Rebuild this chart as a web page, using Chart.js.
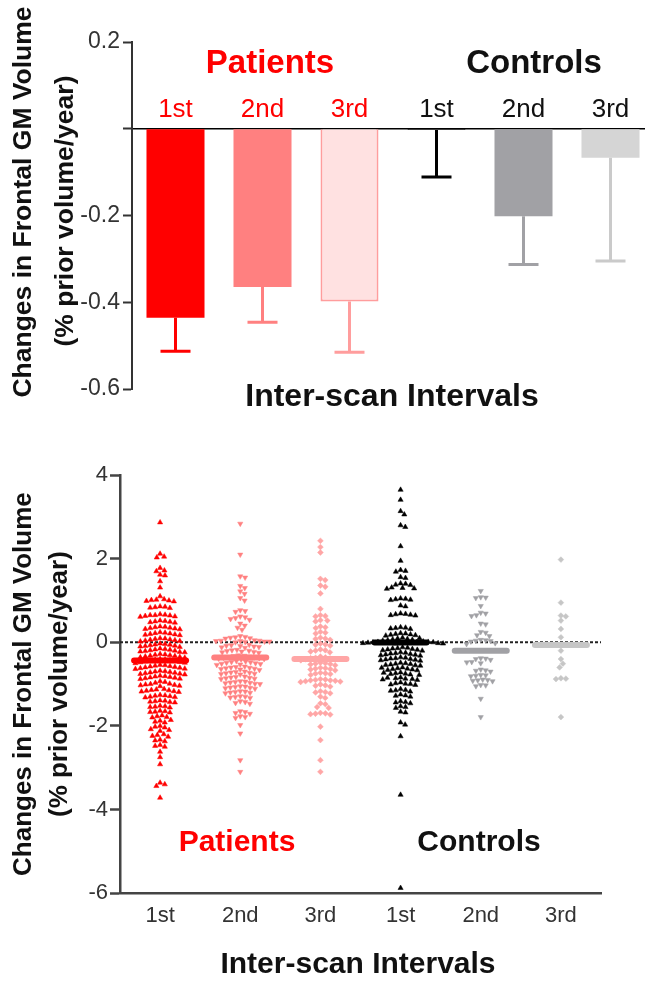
<!DOCTYPE html>
<html>
<head>
<meta charset="utf-8">
<script src="https://cdn.jsdelivr.net/npm/chart.js@4.4.1/dist/chart.umd.min.js"></script>
<style>
  html, body { margin: 0; padding: 0; background: #fff; overflow: hidden; }
  canvas { position: absolute; left: 0; }
</style>
</head>
<body>
<canvas id="barChart" width="654" height="420" style="top:0"></canvas>
<canvas id="dotChart" width="645" height="526" style="top:460px"></canvas>
<script>
// 前頭葉灰白質の体積変化 (上: 平均とSEM, 下: 個別の値)

const intervalLabels = ['1st', '2nd', '3rd', '1st', '2nd', '3rd']
const groupNames = ['Patients', 'Controls']
const axisTitleY = ['Changes in Frontal GM Volume', '(% prior volume/year)']
const axisTitleX = 'Inter-scan Intervals'

const barTicks = [0.2, 0, -0.2, -0.4, -0.6]
const dotTicks = [4, 2, 0, -2, -4, -6]

// 平均値と誤差 (SEM)
const meanChange = [-0.436, -0.365, -0.398, -0.003, -0.202, -0.067]
const semChange = [0.077, 0.081, 0.117, 0.108, 0.111, 0.238]

// 個別の値
const patients1st = [2.87,
  2.12, 2.05, 2.03,
  1.78, 1.72, 1.70, 1.62, 1.60,
  1.46, 1.31, 1.10,
  1.03, 1.02, 1.01, 1.00, 0.99, 0.98,
  0.86, 0.85, 0.84, 0.83, 0.82,
  0.67, 0.66, 0.65, 0.65, 0.64, 0.63, 0.62, 0.61,
  0.52, 0.51, 0.50, 0.49, 0.48, 0.47,
  0.38, 0.37, 0.36, 0.35, 0.34, 0.33, 0.32, 0.31,
  0.24, 0.23, 0.22, 0.21, 0.20, 0.19, 0.18, 0.17,
  0.10, 0.09, 0.08, 0.07, 0.06, 0.05, 0.04, 0.03, 0.02,
  -0.03, -0.04, -0.05, -0.06, -0.07, -0.08, -0.09, -0.10, -0.11,
  -0.15, -0.16, -0.17, -0.18, -0.19, -0.20, -0.21, -0.22, -0.23, -0.24,
  -0.28, -0.29, -0.30, -0.31, -0.32, -0.33, -0.34, -0.35, -0.36, -0.37,
  -0.40, -0.41, -0.42, -0.43, -0.44, -0.45, -0.46, -0.47, -0.48, -0.49, -0.50,
  -0.54, -0.55, -0.56, -0.57, -0.58, -0.59, -0.60, -0.61, -0.62, -0.63, -0.64,
  -0.68, -0.69, -0.70, -0.71, -0.72, -0.73, -0.74, -0.75, -0.76, -0.77,
  -0.80, -0.81, -0.82, -0.83, -0.84, -0.85, -0.86, -0.87, -0.88,
  -0.93, -0.95, -0.97, -0.99, -1.00, -1.01, -1.02, -1.03, -1.04, -1.05,
  -1.12, -1.13, -1.14, -1.15, -1.16, -1.17, -1.18, -1.19,
  -1.26, -1.27, -1.28, -1.29, -1.30, -1.31, -1.32,
  -1.39, -1.40, -1.41, -1.42, -1.43, -1.44,
  -1.52, -1.53, -1.54, -1.55, -1.56,
  -1.64, -1.65, -1.66, -1.67, -1.68,
  -1.75, -1.77, -1.79, -1.80,
  -1.86, -1.88, -1.90, -1.92,
  -2.00, -2.02, -2.04,
  -2.08, -2.10, -2.12,
  -2.20, -2.22, -2.24, -2.26,
  -2.33, -2.35, -2.37,
  -2.46, -2.48, -2.50,
  -2.62, -2.75, -2.92,
  -3.36, -3.40, -3.44,
  -3.72]

const patients2nd = [2.84, 2.10,
  1.58, 1.55,
  1.35, 1.30, 1.22, 1.16, 1.06, 1.00,
  0.77, 0.75, 0.73,
  0.62, 0.60, 0.58, 0.56, 0.54,
  0.45, 0.40, 0.35, 0.30,
  0.15, 0.13, 0.12, 0.11, 0.10, 0.09,
  0.05, 0.04, 0.04, 0.03, 0.03, 0.02, 0.02, 0.01, 0.00,
  -0.06, -0.07, -0.08, -0.09, -0.10, -0.11, -0.12, -0.13,
  -0.18, -0.19, -0.20, -0.21, -0.22, -0.23, -0.24, -0.25,
  -0.31, -0.32, -0.33, -0.34, -0.35, -0.36, -0.37, -0.38, -0.39, -0.40, -0.41,
  -0.45, -0.46, -0.47, -0.48, -0.49, -0.50, -0.51, -0.52, -0.53, -0.54,
  -0.58, -0.59, -0.60, -0.61, -0.62, -0.63, -0.64, -0.65, -0.66,
  -0.70, -0.71, -0.72, -0.73, -0.74, -0.75, -0.76, -0.77,
  -0.82, -0.83, -0.84, -0.85, -0.86, -0.87, -0.88,
  -0.93, -0.94, -0.95, -0.96, -0.97, -0.98, -0.99, -1.00,
  -1.05, -1.06, -1.07, -1.08, -1.09, -1.10, -1.11,
  -1.17, -1.18, -1.19, -1.20, -1.21, -1.22,
  -1.29, -1.30, -1.31, -1.32, -1.33,
  -1.41, -1.43, -1.45, -1.47,
  -1.65, -1.67, -1.69, -1.71,
  -1.77, -1.79, -1.81,
  -1.98, -2.18, -2.82, -3.10]

const patients3rd = [2.43, 2.28, 2.15,
  1.52, 1.49, 1.36, 1.33, 1.17, 0.80,
  0.65, 0.63, 0.62,
  0.53, 0.52, 0.50,
  0.38, 0.36, 0.34,
  0.25, 0.23, 0.21,
  0.11, 0.09, 0.08, 0.06,
  -0.03, -0.05, -0.06, -0.08,
  -0.17, -0.19, -0.20, -0.22, -0.24,
  -0.34, -0.36, -0.37, -0.38, -0.39, -0.40, -0.41, -0.43,
  -0.49, -0.50, -0.51, -0.52, -0.53, -0.55,
  -0.61, -0.62, -0.63, -0.64, -0.65, -0.67,
  -0.73, -0.74, -0.75, -0.76, -0.78,
  -0.88, -0.89, -0.90, -0.91, -0.91, -0.92, -0.93, -0.94, -0.95,
  -1.01, -1.03, -1.04, -1.06,
  -1.17, -1.19, -1.20, -1.22,
  -1.30, -1.33, -1.46, -1.48, -1.55, -1.57,
  -1.69, -1.70, -1.71, -1.72, -1.73,
  -2.02, -2.34, -2.82, -3.10]

const controls1st = [3.65, 3.41, 3.14, 3.06, 2.80, 2.76, 2.30, 1.95,
  1.73, 1.71, 1.69,
  1.56, 1.54,
  1.41, 1.40, 1.38, 1.37,
  1.31, 1.30, 1.29, 1.28,
  1.05, 1.04, 1.03, 1.02, 1.01,
  0.88, 0.86,
  0.69, 0.68, 0.67, 0.66, 0.65, 0.64,
  0.36, 0.35, 0.34, 0.33, 0.32,
  0.22, 0.21, 0.20, 0.19, 0.18, 0.17, 0.16,
  0.11, 0.10, 0.09, 0.08, 0.07, 0.06, 0.05, 0.04,
  0.02, 0.01, 0.01, 0.00, 0.00, 0.00, -0.01, -0.01, -0.02, -0.02, -0.03, -0.03,
  -0.12, -0.13, -0.14, -0.15, -0.16, -0.17, -0.18, -0.19, -0.20,
  -0.24, -0.25, -0.26, -0.27, -0.28, -0.29, -0.30, -0.31, -0.32,
  -0.36, -0.37, -0.38, -0.39, -0.40, -0.41, -0.42, -0.43, -0.44,
  -0.49, -0.50, -0.51, -0.52, -0.53, -0.54, -0.55, -0.56,
  -0.60, -0.61, -0.62, -0.63, -0.64, -0.65, -0.66, -0.67,
  -0.72, -0.73, -0.74, -0.75, -0.76, -0.77, -0.78,
  -0.84, -0.85, -0.86, -0.87, -0.88, -0.89, -0.90,
  -0.96, -0.98, -0.99, -1.00, -1.01, -1.02,
  -1.12, -1.14, -1.15, -1.16, -1.18,
  -1.25, -1.27, -1.28, -1.30,
  -1.41, -1.43, -1.44, -1.46,
  -1.53, -1.55, -1.57,
  -1.66, -1.68,
  -1.92, -1.97, -2.25, -3.65, -5.88]

const controls2nd = [1.23,
  1.08, 1.07, 1.06,
  0.87, 0.71, 0.69, 0.65, 0.63,
  0.45, 0.43, 0.25, 0.23, 0.17, 0.15,
  0.06, 0.05, 0.04, 0.03, 0.02,
  -0.02, -0.04,
  -0.38, -0.39, -0.40, -0.42,
  -0.47, -0.48, -0.50,
  -0.65, -0.67, -0.68, -0.70,
  -0.78, -0.79, -0.80, -0.81,
  -0.89, -0.90, -0.91, -0.92, -0.93,
  -1.02, -1.03, -1.05,
  -1.35, -1.79]

const controls3rd = [1.98, 0.95, 0.64, 0.62, 0.52, 0.32, 0.12,
  -0.20, -0.40, -0.51, -0.60, -0.86, -0.87, -0.88, -1.79]

const groups = [patients1st, patients2nd, patients3rd, controls1st, controls2nd, controls3rd]

// 見た目
const FONT = '"Liberation Sans", Arial, Helvetica, sans-serif'
Chart.defaults.font.family = FONT

const barFill = ['#ff0000', '#ff8080', '#ffe1e1', '#000000', '#a1a1a5', '#d5d5d5']
const barBorder = ['#ff0000', '#ff8080', '#ff9d9d', '#000000', '#a1a1a5', '#d5d5d5']
const errColors = ['#ff0000', '#ff8080', '#ff9d9d', '#000000', '#a1a1a5', '#cacaca']
const labelColors = ['#ff0000', '#ff0000', '#ff0000', '#111111', '#111111', '#111111']
const dotColors = ['#ff0000', '#ff8080', '#ffa6a6', '#000000', '#a1a1a5', '#c6c6c6']
const dotStyles = ['triangle', 'triangle', 'rectRot', 'triangle', 'triangle', 'rectRot']
const dotRotation = [0, 180, 0, 0, 180, 0]

function text(ctx, str, x, y, size, color, bold, rot) {
  ctx.save()
  ctx.translate(x, y)
  if (rot) ctx.rotate(rot)
  ctx.font = (bold ? 'bold ' : '') + size + 'px ' + FONT
  ctx.fillStyle = color
  ctx.textAlign = 'center'
  ctx.textBaseline = 'middle'
  ctx.fillText(str, 0, 0)
  ctx.restore()
}

// 上のグラフ: エラーバーと文字
const barExtras = {
  id: 'barExtras',
  afterDatasetsDraw(chart) {
    const {ctx, scales: {y}} = chart
    const bars = chart.getDatasetMeta(0).data
    ctx.save()
    bars.forEach((bar, i) => {
      const top = y.getPixelForValue(meanChange[i])
      const low = y.getPixelForValue(meanChange[i] - semChange[i])
      ctx.strokeStyle = errColors[i]
      ctx.lineWidth = 3
      ctx.beginPath()
      ctx.moveTo(bar.x, top)
      ctx.lineTo(bar.x, low)
      ctx.moveTo(bar.x - 15, low)
      ctx.lineTo(bar.x + 15, low)
      ctx.stroke()
      text(ctx, intervalLabels[i], bar.x, 110, 26, labelColors[i], false)
    })
    ctx.restore()
    text(ctx, groupNames[0], 270, 64, 33, '#ff0000', true)
    text(ctx, groupNames[1], 534, 64, 33, '#111111', true)
    text(ctx, axisTitleX, 392, 397, 32, '#111111', true)
    // 縦軸タイトル
    text(ctx, axisTitleY[0], 24, 202, 26.5, '#111111', true, -Math.PI / 2)
    text(ctx, axisTitleY[1], 66, 211, 26.5, '#111111', true, -Math.PI / 2)
  }
}

new Chart(document.getElementById('barChart'), {
  type: 'bar',
  data: {
    labels: intervalLabels,
    datasets: [{
      data: meanChange,
      backgroundColor: barFill,
      borderColor: barBorder,
      borderWidth: [0, 0, 2, 2, 0, 0],
      borderSkipped: 'start',
      barPercentage: 0.667,
      categoryPercentage: 1
    }]
  },
  options: {
    responsive: false,
    animation: false,
    layout: {padding: {top: 42, bottom: 31, left: 0, right: 0}},
    plugins: {legend: {display: false}, tooltip: {enabled: false}},
    scales: {
      x: {
        position: {y: 0},
        grid: {display: false, drawTicks: false},
        ticks: {display: false},
        border: {color: '#000', width: 1.5}
      },
      y: {
        min: -0.6,
        max: 0.2,
        afterBuildTicks: s => { s.ticks = barTicks.map(v => ({value: v})) },
        afterFit: s => { s.width = 132 },
        ticks: {
          font: {size: 23},
          color: '#333',
          padding: 3,
          callback: v => Math.abs(v) < 1e-9 ? '' : v.toFixed(1)
        },
        grid: {drawOnChartArea: false, tickLength: 9, tickWidth: 2, tickColor: '#333'},
        border: {color: '#333', width: 2}
      }
    }
  },
  plugins: [barExtras]
})

// 下のグラフ: 点線、平均線、文字
const dotExtras = {
  id: 'dotExtras',
  beforeDatasetsDraw(chart) {
    const {ctx, chartArea, scales: {y}} = chart
    const y0 = y.getPixelForValue(0)
    ctx.save()
    ctx.strokeStyle = '#222'
    ctx.lineWidth = 2
    ctx.setLineDash([3, 2])
    ctx.beginPath()
    ctx.moveTo(chartArea.left, y0)
    ctx.lineTo(chartArea.right, y0)
    ctx.stroke()
    ctx.restore()
  },
  afterDatasetsDraw(chart) {
    const {ctx, scales: {x, y}} = chart
    ctx.save()
    ctx.lineWidth = 6
    ctx.lineCap = 'round'
    meanChange.forEach((m, i) => {
      const cx = x.getPixelForValue(i)
      const cy = y.getPixelForValue(m)
      ctx.strokeStyle = dotColors[i]
      ctx.beginPath()
      ctx.moveTo(cx - 26, cy)
      ctx.lineTo(cx + 26, cy)
      ctx.stroke()
    })
    ctx.restore()
    text(ctx, groupNames[0], 237, 383, 30, '#ff0000', true)
    text(ctx, groupNames[1], 479, 383, 30, '#111111', true)
    text(ctx, axisTitleX, 358, 505, 30, '#111111', true)
  }
}

const dotChart = new Chart(document.getElementById('dotChart'), {
  type: 'scatter',
  data: {
    datasets: groups.map((vals, i) => ({
      data: vals.map(v => ({x: i, y: v})),
      pointStyle: dotStyles[i],
      rotation: dotRotation[i],
      pointRadius: dotStyles[i] == 'rectRot' ? 2.9 : 3.0,
      backgroundColor: dotColors[i],
      borderColor: dotColors[i],
      borderWidth: 0.5
    }))
  },
  options: {
    responsive: false,
    animation: false,
    layout: {padding: {top: 13, right: 44, left: 0, bottom: 0}},
    plugins: {legend: {display: false}, tooltip: {enabled: false}},
    scales: {
      x: {
        type: 'linear',
        min: -0.5,
        max: 5.5,
        afterBuildTicks: s => { s.ticks = intervalLabels.map((_, i) => ({value: i})) },
        afterFit: s => { s.height = 93 },
        ticks: {callback: v => intervalLabels[v], font: {size: 22}, color: '#333', padding: 10},
        grid: {display: false, drawTicks: false},
        border: {color: '#444', width: 2.5}
      },
      y: {
        min: -6,
        max: 4,
        afterBuildTicks: s => { s.ticks = dotTicks.map(v => ({value: v})) },
        afterFit: s => { s.width = 120 },
        ticks: {font: {size: 22}, color: '#333', padding: 2},
        grid: {drawOnChartArea: false, tickLength: 10, tickWidth: 2.5, tickColor: '#444'},
        border: {color: '#444', width: 2.5},
        title: {
          display: true,
          text: axisTitleY,
          font: {size: 26, weight: 'bold', lineHeight: 1.385},
          color: '#111',
          padding: {top: 6, bottom: 0}
        }
      }
    }
  },
  plugins: [dotExtras]
})

// 点を横に並べる (beeswarm)。値が近い点同士が重ならないよう横にずらす
function swarmOffsets(py, d) {
  const order = py.map((_, i) => i).sort((a, b) => py[a] - py[b])
  const placed = []
  const out = []
  order.forEach(i => {
    const y = py[i]
    const near = placed.filter(p => Math.abs(p.y - y) < d)
    const cands = [0]
    near.forEach(p => {
      const dx = Math.sqrt(d * d - (p.y - y) * (p.y - y))
      cands.push(p.x + dx, p.x - dx)
    })
    cands.sort((a, b) => Math.abs(a) - Math.abs(b))
    let x = 0
    for (const c of cands) {
      if (near.every(p => (p.x - c) ** 2 + (p.y - y) ** 2 >= d * d - 0.01)) { x = c; break }
    }
    placed.push({x: x, y: y})
    out[i] = x
  })
  return out
}

function applySwarm(chart) {
  const xs = chart.scales.x, ys = chart.scales.y
  const unit = xs.getPixelForValue(1) - xs.getPixelForValue(0)
  chart.data.datasets.forEach((ds, i) => {
    const off = swarmOffsets(ds.data.map(p => ys.getPixelForValue(p.y)), 5.0)
    ds.data.forEach((p, k) => { p.x = i + off[k] / unit })
  })
  chart.update('none')
}
applySwarm(dotChart)
</script>
</body>
</html>
